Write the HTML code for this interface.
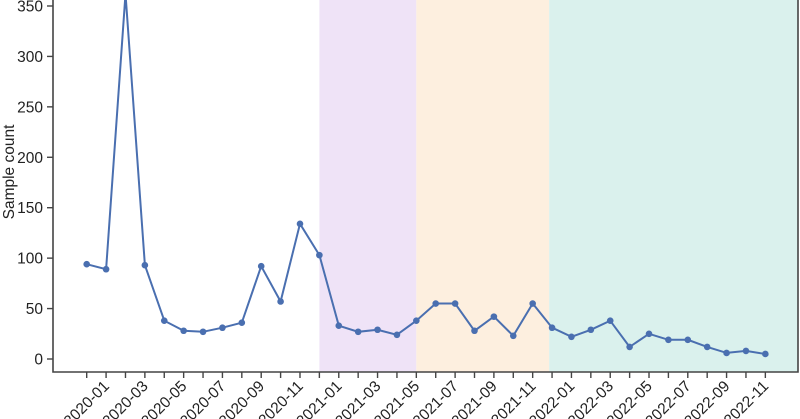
<!DOCTYPE html>
<html><head><meta charset="utf-8"><style>
body{margin:0;background:#fff;}
svg{display:block;font-family:"Liberation Sans",sans-serif;}
</style></head><body>
<svg id="chart" width="800" height="419" viewBox="0 0 800 419"></svg>
<script>
const months = ["2019-12","2020-01","2020-02","2020-03","2020-04","2020-05","2020-06","2020-07","2020-08","2020-09","2020-10","2020-11","2020-12","2021-01","2021-02","2021-03","2021-04","2021-05","2021-06","2021-07","2021-08","2021-09","2021-10","2021-11","2021-12","2022-01","2022-02","2022-03","2022-04","2022-05","2022-06","2022-07","2022-08","2022-09","2022-10","2022-11"];
const counts = [94,89,362,93,38,28,27,31,36,92,57,134,103,33,27,29,24,38,55,55,28,42,23,55,31,22,29,38,12,25,19,19,12,6,8,5];
const yTicks = [0,50,100,150,200,250,300,350];
const bandStarts = [12,17,23.85];
const bandEnds = [17,23.85,40];
const bandColors = ["#efe3f7","#fdefdf","#daf1ed"];
const bandNames = ["period-band-1","period-band-2","period-band-3"];

const NS="http://www.w3.org/2000/svg";
const svg=document.getElementById('chart');
const L=53,R=798,B=372;
const x=i=>86.7+i*19.39;
const y=v=>359-v*1.0086;
function el(t,a,p){const e=document.createElementNS(NS,t);for(const k in a)e.setAttribute(k,a[k]);(p||svg).appendChild(e);return e;}
const clip=el('clipPath',{id:'pc'});el('rect',{x:L,y:0,width:R-L,height:B},clip);
for(let i=0;i<bandStarts.length;i++){
  const r=el('rect',{x:x(bandStarts[i]),y:0,width:Math.min(R,x(bandEnds[i]))-x(bandStarts[i]),height:B,fill:bandColors[i]});
  
  
}
const pts=counts.map((v,i)=>x(i).toFixed(1)+","+y(v).toFixed(1)).join(" ");
const line=el('polyline',{points:pts,fill:"none",stroke:"#4a6fb0","stroke-width":2,"clip-path":"url(#pc)"});


counts.forEach((v,i)=>{
  const c=el('circle',{cx:x(i),cy:y(v),r:3.3,fill:"#4a6fb0","clip-path":"url(#pc)"});
  
  
});
const ax=el('path',{d:`M${L},0V${B}H${R}V0`,fill:"none",stroke:"#444","stroke-width":1.6});


yTicks.forEach(v=>{
  el('line',{x1:L-6,x2:L,y1:y(v),y2:y(v),stroke:"#444","stroke-width":1.4});
  const t=el('text',{x:L-10,y:y(v)+5.5,"text-anchor":"end","font-size":15.5,fill:"#222"});
  t.textContent=v;
  
  
});
months.forEach((m,i)=>{
  el('line',{x1:x(i),x2:x(i),y1:B,y2:B+6,stroke:"#444","stroke-width":1.4});
  if(i%2===1){
    const t=el('text',{transform:`translate(${x(i)+4},${B+15}) rotate(-45)`,"text-anchor":"end","font-size":15.5,fill:"#222"});
    t.textContent=m;
    
    
  }
});
const yt=el('text',{transform:"translate(14,172) rotate(-90)","text-anchor":"middle","font-size":15.5,fill:"#222"});
yt.textContent="Sample count";


</script>
</body></html>
